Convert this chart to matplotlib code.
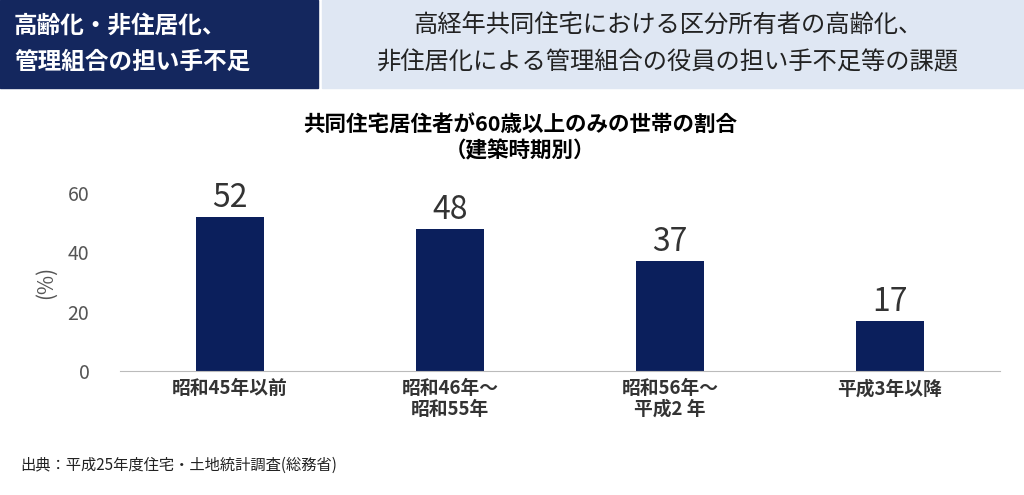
import matplotlib
matplotlib.use("Agg")
import matplotlib.pyplot as plt
from matplotlib.patches import Rectangle

plt.rcParams["font.family"] = "Noto Sans CJK JP"

categories = ["昭和45年以前", "昭和46年～\n昭和55年", "昭和56年～\n平成2 年", "平成3年以降"]
values = [52, 48, 37, 17]
yticks = [0, 20, 40, 60]

W, H = 1024, 495
fig = plt.figure(figsize=(W/100, H/100), dpi=100)
navy = "#0b1f5c"

fig.patches.append(Rectangle((0, 1-88/H), 318/W, 88/H, transform=fig.transFigure, color="#14275e", zorder=0))
fig.patches.append(Rectangle((322/W, 1-88/H), 702/W, 88/H, transform=fig.transFigure, color="#dfe7f3", zorder=0))
fig.text(14/W, 1-26/H, "高齢化・非住居化、", color="white", fontsize=17, fontweight="bold", va="center")
fig.text(14/W, 1-62/H, "管理組合の担い手不足", color="white", fontsize=17, fontweight="bold", va="center")
fig.text(668/W, 1-26/H, "高経年共同住宅における区分所有者の高齢化、", color="#222222", fontsize=17.5, ha="center", va="center")
fig.text(668/W, 1-62/H, "非住居化による管理組合の役員の担い手不足等の課題", color="#222222", fontsize=17.5, ha="center", va="center")

fig.text(520/W, 1-124/H, "共同住宅居住者が60歳以上のみの世帯の割合", fontsize=15.5, fontweight="bold", ha="center", va="center")
fig.text(520/W, 1-151/H, "（建築時期別）", fontsize=15.5, fontweight="bold", ha="center", va="center")

ax = fig.add_axes([120/W, 1-371/H, 880/W, (371-193)/H])
x = range(len(categories))
ax.bar(x, values, width=0.31, color=navy)
for i, v in zip(x, values):
    ax.text(i, v + 1.0, str(v), ha="center", va="bottom", fontsize=23, color="#333333")
ax.set_xlim(-0.5, 3.5)
ax.set_ylim(0, 60)
ax.set_yticks(yticks)
ax.set_xticks(list(x))
ax.set_xticklabels(categories, fontsize=13.5, color="#333333", fontweight="bold", linespacing=1.1)
ax.tick_params(axis="y", labelsize=14, colors="#555555", length=0, pad=22)
ax.tick_params(axis="x", length=0, pad=6)
for s in ["top", "right", "left"]:
    ax.spines[s].set_visible(False)
ax.spines["bottom"].set_color("#bbbbbb")
ax.set_ylabel("(%)", fontsize=15, color="#555555", labelpad=8)

fig.text(20/W, 1-465/H, "出典：平成25年度住宅・土地統計調査(総務省)", fontsize=11, va="center", color="#222222")

fig.savefig("out.png", dpi=100, facecolor="white")
